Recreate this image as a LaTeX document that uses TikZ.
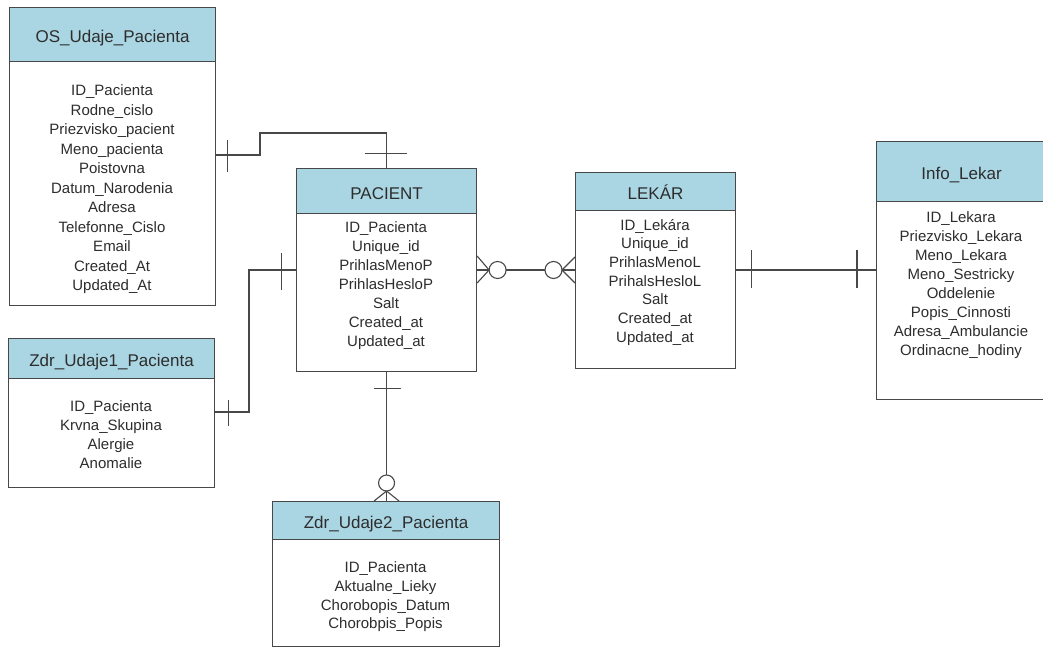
\documentclass[tikz,border=0pt]{standalone}
\usepackage{fontspec}
\setmainfont{Liberation Sans}
\usetikzlibrary{calc}
\definecolor{bordercol}{RGB}{72,72,72}
\definecolor{hdrblue}{RGB}{170,214,227}
\definecolor{textcol}{RGB}{45,45,45}
\tikzset{
  hdr/.style={draw=bordercol, fill=hdrblue, line width=1.1pt, inner sep=0pt, anchor=north west,
    font=\fontsize{17}{20}\selectfont, text=textcol, text height=16pt, text depth=0pt},
  bodybox/.style={draw=bordercol, fill=white, line width=1.1pt, inner sep=0pt, anchor=north west},
  items/.style={align=center, anchor=north, inner sep=0pt, text=textcol},
  conn/.style={draw=bordercol, line width=1.1pt},
  tick/.style={draw=bordercol, line width=1.1pt}
}
\begin{document}
\begin{tikzpicture}[x=1pt,y=-1pt]
\useasboundingbox (0,0) rectangle (1043,648);
\fill[white] (0,0) rectangle (1043,648);

% OS_Udaje_Pacienta
\node[bodybox, minimum width=206pt, minimum height=244pt] (osb) at (9,61) {};
\node[hdr, minimum width=206pt, minimum height=54pt] (osh) at (9,7) {OS\_Udaje\_Pacienta};
\node[items, font=\fontsize{15}{19.5}\selectfont] (osi) at (112,84.5) {ID\_Pacienta\\Rodne\_cislo\\Priezvisko\_pacient\\Meno\_pacienta\\Poistovna\\Datum\_Narodenia\\Adresa\\Telefonne\_Cislo\\Email\\Created\_At\\Updated\_At};

% PACIENT
\node[bodybox, minimum width=180pt, minimum height=158pt] (pacb) at (296,213) {};
\node[hdr, minimum width=180pt, minimum height=45pt] (pach) at (296,168) {PACIENT};
\node[items, font=\fontsize{15}{18.9}\selectfont] (paci) at (386,221.8) {ID\_Pacienta\\Unique\_id\\PrihlasMenoP\\PrihlasHesloP\\Salt\\Created\_at\\Updated\_at};

% LEKAR
\node[bodybox, minimum width=160pt, minimum height=158pt] (lekb) at (575,210) {};
\node[hdr, minimum width=160pt, minimum height=38pt] (lekh) at (575,172) {LEKÁR};
\node[items, font=\fontsize{15}{18.7}\selectfont] (leki) at (655,218.8) {ID\_Lekára\\Unique\_id\\PrihlasMenoL\\PrihalsHesloL\\Salt\\Created\_at\\Updated\_at};

% Info_Lekar
\node[bodybox, minimum width=170pt, minimum height=198pt] (infob) at (876,201) {};
\node[hdr, minimum width=170pt, minimum height=60pt] (infoh) at (876,141) {Info\_Lekar};
\node[items, font=\fontsize{15}{18.96}\selectfont] (infoi) at (961,211.8) {ID\_Lekara\\Priezvisko\_Lekara\\Meno\_Lekara\\Meno\_Sestricky\\Oddelenie\\Popis\_Cinnosti\\Adresa\_Ambulancie\\Ordinacne\_hodiny};

% Zdr_Udaje1_Pacienta
\node[bodybox, minimum width=206pt, minimum height=109pt] (zab) at (8,378) {};
\node[hdr, minimum width=206pt, minimum height=40pt] (zah) at (8,338) {Zdr\_Udaje1\_Pacienta};
\node[items, font=\fontsize{15}{19.1}\selectfont] (zai) at (111,400.5) {ID\_Pacienta\\Krvna\_Skupina\\Alergie\\Anomalie};

% Zdr_Udaje2_Pacienta
\node[bodybox, minimum width=227pt, minimum height=107pt] (zbb) at (272,539) {};
\node[hdr, minimum width=227pt, minimum height=38pt] (zbh) at (272,501) {Zdr\_Udaje2\_Pacienta};
\node[items, font=\fontsize{15}{18.9}\selectfont] (zbi) at (385.5,561.2) {ID\_Pacienta\\Aktualne\_Lieky\\Chorobopis\_Datum\\Chorobpis\_Popis};

% ---- connectors ----
% OS_Udaje -> PACIENT (one to one)
\coordinate (osp) at ($(osb.north east)+(0,94)$);
\coordinate (c1) at (260,133);
\draw[conn] (osp) -| (c1) -| (pach.north);
\draw[tick] ($(osp)+(11,-15)$) -- ($(osp)+(11,17)$);
\draw[tick] ($(pach.north)+(-22,-14.5)$) -- ($(pach.north)+(20,-14.5)$);

% Zdr_Udaje1 -> PACIENT (one to one)
\coordinate (zap) at ($(zab.north east)+(0,34)$);
\coordinate (pacl) at ($(pacb.north west)+(0,57)$);
\coordinate (c2) at (249,270);
\draw[conn] (zap) -| (c2) -- (pacl);
\draw[tick] ($(zap)+(13,-12)$) -- ($(zap)+(13,14)$);
\draw[tick] ($(pacl)+(-14.5,-17)$) -- ($(pacl)+(-14.5,20)$);

% PACIENT -> Zdr_Udaje2 (one to zero-or-many)
\coordinate (pacs) at (pacb.south);
\coordinate (zbt) at (pacb.south |- zbh.north);
\coordinate (cb) at ($(zbt)+(0,-18)$);
\draw[conn] (pacs) -- ($(cb)+(0,-8)$);
\draw[tick] ($(pacs)+(-13,16)$) -- ($(pacs)+(14,16)$);
\draw[conn] (cb) circle[radius=8pt];
\draw[conn] ($(cb)+(0,8)$) -- (zbt);
\draw[conn] ($(cb)+(0,8)$) -- ($(zbt)+(-12.5,0)$);
\draw[conn] ($(cb)+(0,8)$) -- ($(zbt)+(12.5,0)$);

% PACIENT <-> LEKAR (zero-or-many both ends)
\coordinate (pacr) at ($(pacb.north east)+(0,57)$);
\coordinate (lekl) at ($(lekb.north west)+(0,60)$);
\coordinate (ca) at ($(pacr)+(20.5,0)$);
\coordinate (cc) at ($(lekl)+(-21.5,0)$);
\draw[conn] (pacr) -- ($(ca)+(-8.5,0)$);
\draw[conn] ($(pacr)+(0,-14)$) -- ($(ca)+(-8.5,0)$);
\draw[conn] ($(pacr)+(0,13)$) -- ($(ca)+(-8.5,0)$);
\draw[conn] (ca) circle[radius=8.5pt];
\draw[conn] ($(ca)+(8.5,0)$) -- ($(cc)+(-8.5,0)$);
\draw[conn] (cc) circle[radius=8.5pt];
\draw[conn] ($(cc)+(8.5,0)$) -- (lekl);
\draw[conn] ($(cc)+(8.5,0)$) -- ($(lekl)+(0,-13)$);
\draw[conn] ($(cc)+(8.5,0)$) -- ($(lekl)+(0,13)$);

% LEKAR -> Info_Lekar (one to one)
\coordinate (lekr) at ($(lekb.north east)+(0,60)$);
\coordinate (infol) at (lekr -| infob.west);
\draw[conn] (lekr) -- (infol);
\draw[tick] ($(lekr)+(15,-20)$) -- ($(lekr)+(15,18)$);
\draw[tick] ($(infol)+(-19,-20)$) -- ($(infol)+(-19,18)$);
\end{tikzpicture}
\end{document}
